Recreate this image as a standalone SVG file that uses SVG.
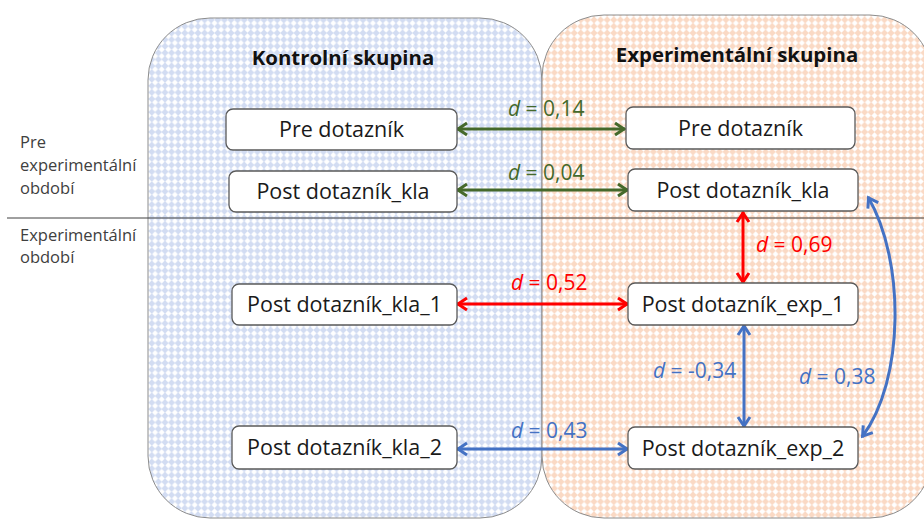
<svg xmlns="http://www.w3.org/2000/svg" width="924" height="520" viewBox="0 0 924 520">
  <defs>
    <pattern id="dotsBlue" width="6.6" height="6.6" patternUnits="userSpaceOnUse">
      <rect width="6.6" height="6.6" fill="#d2dcf2"/>
      <polygon points="3.3,0.3 6.3,3.3 3.3,6.3 0.3,3.3" fill="#ffffff"/>
    </pattern>
    <pattern id="dotsOrange" width="6.6" height="6.6" patternUnits="userSpaceOnUse">
      <rect width="6.6" height="6.6" fill="#fad9c4"/>
      <polygon points="3.3,0.3 6.3,3.3 3.3,6.3 0.3,3.3" fill="#ffffff"/>
    </pattern>
    <marker id="arrGreen" viewBox="-12 -8 14 16" markerWidth="14" markerHeight="16" refX="0" refY="0" orient="auto-start-reverse" markerUnits="userSpaceOnUse">
      <path d="M-10,-6 L-1,0 L-10,6" fill="none" stroke="#45692b" stroke-width="3"/>
    </marker>
    <marker id="arrRed" viewBox="-12 -8 14 16" markerWidth="14" markerHeight="16" refX="0" refY="0" orient="auto-start-reverse" markerUnits="userSpaceOnUse">
      <path d="M-10,-6 L-1,0 L-10,6" fill="none" stroke="#ff0000" stroke-width="3"/>
    </marker>
    <marker id="arrBlue" viewBox="-12 -8 14 16" markerWidth="14" markerHeight="16" refX="0" refY="0" orient="auto-start-reverse" markerUnits="userSpaceOnUse">
      <path d="M-10,-6 L-1,0 L-10,6" fill="none" stroke="#4472c4" stroke-width="3"/>
    </marker>
  </defs>
  <style>
    .group { stroke: #8c8c8c; stroke-width: 1; }
    .title { font-family: "Open Sans", "Liberation Sans", sans-serif; font-weight: bold; font-size: 20.4px; fill: #111111; text-anchor: middle; }
    .period { font-family: "Open Sans", "Liberation Sans", sans-serif; font-size: 16.5px; fill: #404040; }
    .box { fill: #ffffff; stroke: #5a5a5a; stroke-width: 1.3; }
    .label { font-family: "Open Sans", "Liberation Sans", sans-serif; font-size: 21.5px; fill: #1a1a1a; text-anchor: middle; }
    .eff { font-family: "Open Sans", "Liberation Sans", sans-serif; font-size: 21px; }
    .g { fill: #45692b; } .r { fill: #ff0000; } .b { fill: #4472c4; }
    .lg { stroke: #45692b; stroke-width: 3; fill: none; marker-start: url(#arrGreen); marker-end: url(#arrGreen); }
    .lr { stroke: #ff0000; stroke-width: 3; fill: none; marker-start: url(#arrRed); marker-end: url(#arrRed); }
    .lb { stroke: #4472c4; stroke-width: 3; fill: none; marker-start: url(#arrBlue); marker-end: url(#arrBlue); }
  </style>

  <rect width="924" height="520" fill="#ffffff"/>

  <!-- group panels -->
  <g id="control-group">
    <rect class="group" x="148" y="18" width="394" height="500" rx="62" fill="url(#dotsBlue)"/>
    <text class="title" x="343" y="65">Kontrolní skupina</text>
  </g>
  <g id="experimental-group">
    <rect class="group" x="542" y="15" width="390" height="503" rx="62" fill="url(#dotsOrange)"/>
    <text class="title" x="737" y="62">Experimentální skupina</text>
  </g>

  <!-- period divider and labels -->
  <g id="periods">
    <line x1="7" y1="218" x2="924" y2="218" stroke="#404040" stroke-width="1"/>
    <text class="period" x="20" y="148">Pre</text>
    <text class="period" x="20" y="171">experimentální</text>
    <text class="period" x="20" y="194">období</text>
    <text class="period" x="20" y="241">Experimentální</text>
    <text class="period" x="20" y="263">období</text>
  </g>

  <!-- connectors -->
  <g id="connectors">
    <line class="lg" x1="457" y1="129" x2="625" y2="129"/>
    <line class="lg" x1="457" y1="190" x2="628" y2="190"/>
    <line class="lr" x1="457" y1="304" x2="628" y2="304"/>
    <line class="lr" x1="743" y1="212" x2="743" y2="283"/>
    <line class="lb" x1="457" y1="449" x2="628" y2="449"/>
    <line class="lb" x1="744" y1="325" x2="744" y2="427"/>
    <path class="lb" d="M868,197 C905,260 905,380 862,437"/>
    <text class="eff g" x="508" y="116"><tspan font-style="italic">d</tspan> = 0,14</text>
    <text class="eff g" x="508" y="180"><tspan font-style="italic">d</tspan> = 0,04</text>
    <text class="eff r" x="511" y="290"><tspan font-style="italic">d</tspan> = 0,52</text>
    <text class="eff r" x="756" y="252"><tspan font-style="italic">d</tspan> = 0,69</text>
    <text class="eff b" x="653" y="378"><tspan font-style="italic">d</tspan> = -0,34</text>
    <text class="eff b" x="799" y="384"><tspan font-style="italic">d</tspan> = 0,38</text>
    <text class="eff b" x="511" y="438"><tspan font-style="italic">d</tspan> = 0,43</text>
  </g>

  <!-- questionnaire nodes -->
  <g id="ctrl-pre">
    <rect class="box" x="226" y="109" width="231" height="41" rx="7"/>
    <text class="label" x="341.5" y="137">Pre dotazník</text>
  </g>
  <g id="exp-pre">
    <rect class="box" x="626" y="107" width="229" height="42" rx="7"/>
    <text class="label" x="740.5" y="136">Pre dotazník</text>
  </g>
  <g id="ctrl-post-kla">
    <rect class="box" x="229" y="171" width="228" height="41" rx="7"/>
    <text class="label" x="343" y="199">Post dotazník_kla</text>
  </g>
  <g id="exp-post-kla">
    <rect class="box" x="628" y="169" width="230" height="42" rx="7"/>
    <text class="label" x="743" y="198">Post dotazník_kla</text>
  </g>
  <g id="ctrl-post-kla-1">
    <rect class="box" x="232" y="284" width="225" height="41" rx="7"/>
    <text class="label" x="344.5" y="312">Post dotazník_kla_1</text>
  </g>
  <g id="exp-post-exp-1">
    <rect class="box" x="628" y="283" width="230" height="42" rx="7"/>
    <text class="label" x="743" y="312">Post dotazník_exp_1</text>
  </g>
  <g id="ctrl-post-kla-2">
    <rect class="box" x="232" y="426" width="225" height="43" rx="7"/>
    <text class="label" x="344.5" y="455">Post dotazník_kla_2</text>
  </g>
  <g id="exp-post-exp-2">
    <rect class="box" x="628" y="427" width="230" height="42" rx="7"/>
    <text class="label" x="743" y="456">Post dotazník_exp_2</text>
  </g>
</svg>
